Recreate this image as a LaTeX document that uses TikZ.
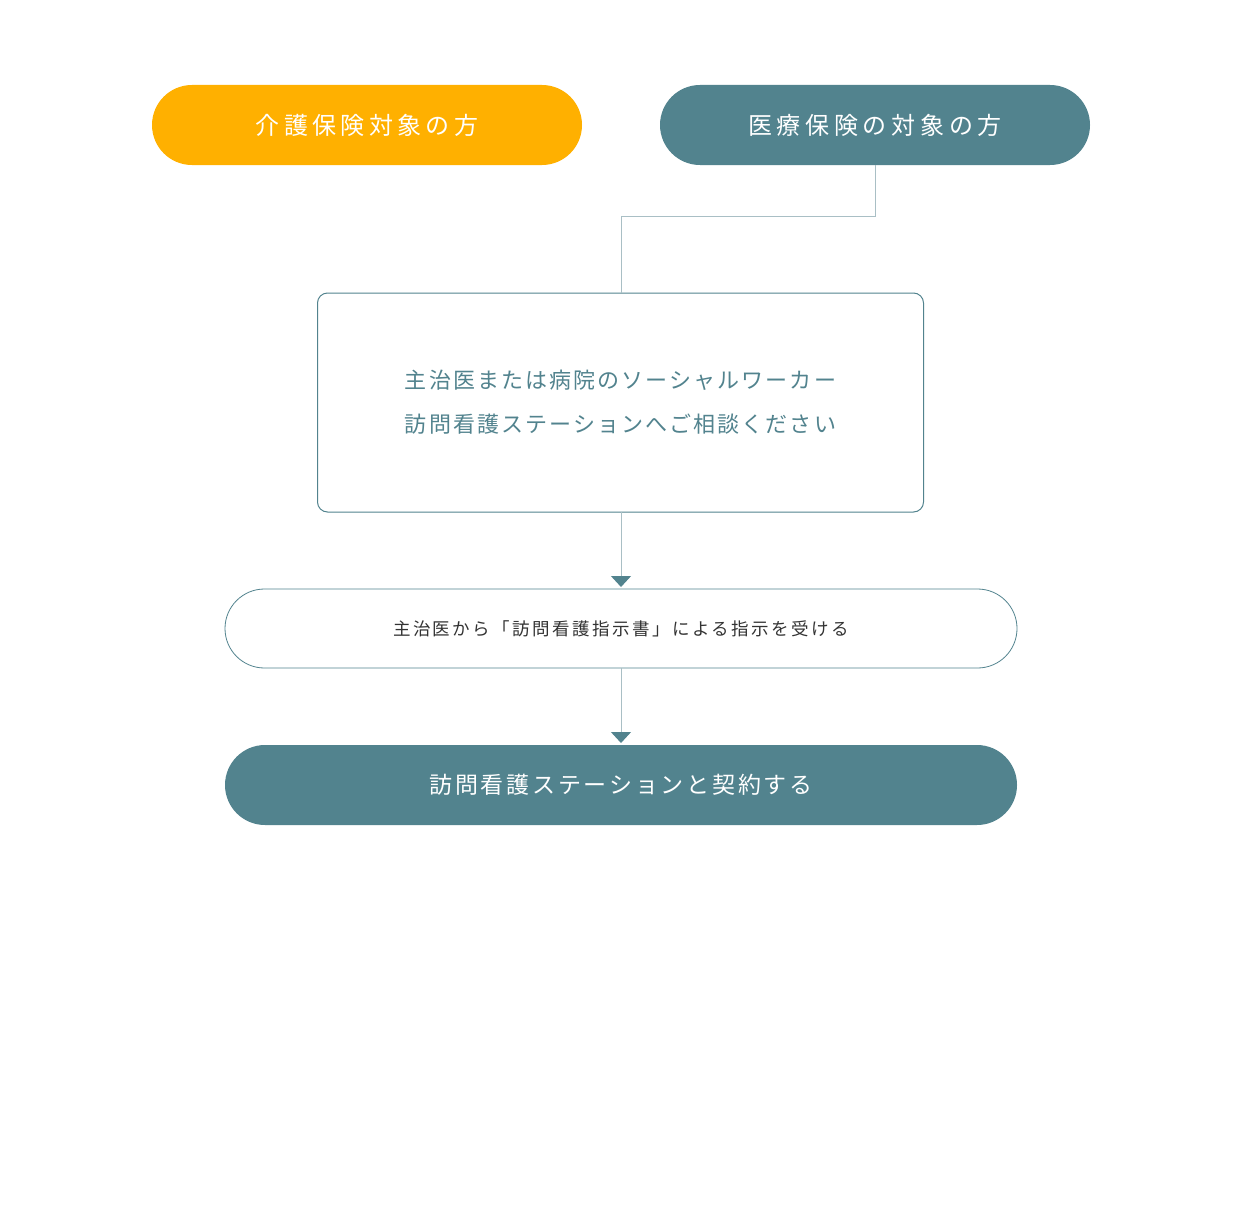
\documentclass[tikz,border=0pt]{standalone}
\usepackage{fontspec}
\setmainfont{Noto Sans CJK JP}
\usetikzlibrary{arrows.meta}
\definecolor{orangec}{HTML}{FFB000}
\definecolor{tealc}{HTML}{52838E}
\definecolor{linec}{HTML}{A9BFC5}
\definecolor{darkt}{HTML}{333333}
\tikzset{
  pill/.style={rectangle, rounded corners=40pt, minimum height=80pt, inner sep=0pt, outer sep=0pt},
  conn/.style={draw=linec, line width=1pt},
  arr/.style={conn, -{Triangle[width=20pt,length=11pt,fill=tealc,color=tealc]}, shorten >=2pt},
}
\begin{document}
\begin{tikzpicture}[x=1pt,y=-1pt]
\useasboundingbox (0,0) rectangle (1244,1204);
\fill[white] (0,0) rectangle (1244,1204);
\node[pill, fill=orangec, minimum width=430pt, text=white,
  font=\fontsize{24}{28}\selectfont\addfontfeature{LetterSpace=18}] (p1) at (367,125) {介護保険対象の方};
\node[pill, fill=tealc, minimum width=430pt, text=white,
  font=\fontsize{24}{28}\selectfont\addfontfeature{LetterSpace=19.5}] (p2) at (875,125) {医療保険の対象の方};
\node[rectangle, rounded corners=10pt, draw=tealc, line width=1pt, minimum width=606pt, minimum height=219pt,
  inner sep=0pt, outer sep=0pt, text=tealc, align=center,
  font=\fontsize{22}{44}\selectfont\addfontfeature{LetterSpace=9.5}] (box) at (620.5,402.5)
  {主治医または病院のソーシャルワーカー\\訪問看護ステーションへご相談ください};
\node[pill, rounded corners=39.5pt, draw=tealc, line width=0.8pt, fill=white, minimum width=792pt, minimum height=79pt,
  text=darkt, font=\fontsize{17.5}{20}\selectfont\addfontfeature{LetterSpace=14}] (p3) at (621,628.5)
  {主治医から「訪問看護指示書」による指示を受ける};
\node[pill, fill=tealc, minimum width=792pt, text=white,
  font=\fontsize{23}{28}\selectfont\addfontfeature{LetterSpace=12}] (p4) at (621,785)
  {訪問看護ステーションと契約する};
\coordinate (bend) at (621,216);
\draw[conn] (p2.south) |- (bend) -- (bend |- box.north);
\draw[arr] (p3.north |- box.south) -- (p3.north);
\draw[arr] (p3.south) -- (p4.north);
\end{tikzpicture}
\end{document}
